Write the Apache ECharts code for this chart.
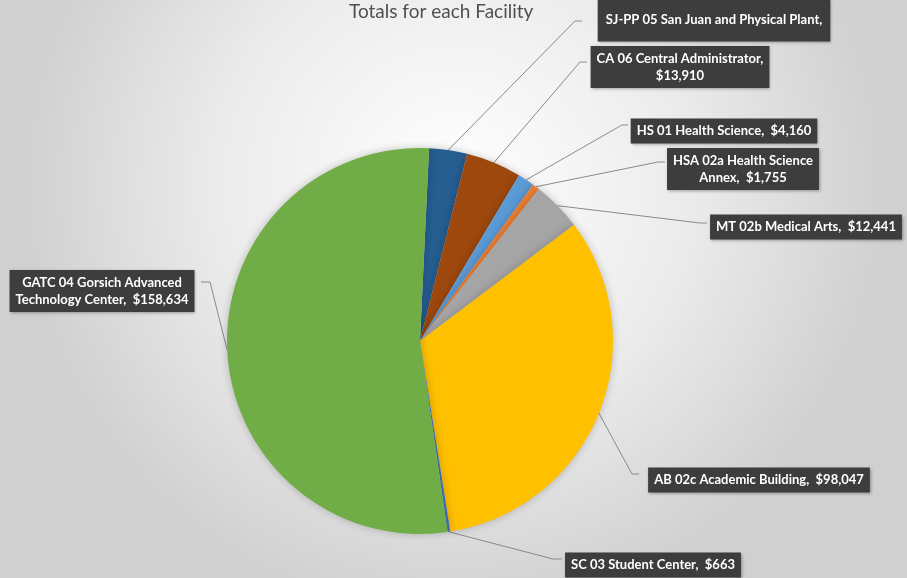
<!DOCTYPE html>
<html>
<head>
<meta charset="utf-8">
<script src="https://cdn.jsdelivr.net/npm/echarts@6/dist/echarts.min.js"></script>
<style>
  html, body { margin: 0; padding: 0; }
  #chart { width: 907px; height: 578px; }
</style>
</head>
<body>
<div id="chart"></div>
<script>
// ---- data ----
var categories = [
  'SJ-PP 05 San Juan and Physical Plant',
  'CA 06 Central Administrator',
  'HS 01 Health Science',
  'HSA 02a Health Science Annex',
  'MT 02b Medical Arts',
  'AB 02c Academic Building',
  'SC 03 Student Center',
  'GATC 04 Gorsich Advanced Technology Center'
];
var totals = [9500, 13910, 4160, 1755, 12441, 98047, 663, 158634];
var chartTitle = 'Totals for each Facility';

// ---- styles / layout (not data) ----
var colors = ['#255E91', '#9E480E', '#5B9BD5', '#ED7D31', '#A5A5A5', '#FFC000', '#4472C4', '#70AD47'];
// label box centres, leader-line bend and end points
var labelBoxes = [
  { cx: 714, cy: 20,  bend: [575, 21],  end: [582, 21],  breakBefore: null, hideValue: true, pad: [13, 8] },
  { cx: 680, cy: 67,  bend: [580, 62],  end: [587, 62],  breakBefore: '$' },
  { cx: 724, cy: 131, bend: [622, 125], end: [628, 125] },
  { cx: 743, cy: 169, bend: [658, 162], end: [665, 162], breakBefore: 'Annex' },
  { cx: 806, cy: 227, bend: [700, 223], end: [707, 223] },
  { cx: 759, cy: 480, bend: [632, 474], end: [639, 474] },
  { cx: 653, cy: 565, bend: [553, 559], end: [562, 559] },
  { cx: 102, cy: 291, bend: [210, 282], end: [201, 282], breakBefore: 'Technology' }
];

function fmtMoney(v) { return '$' + v.toLocaleString('en-US'); }
function labelText(i) {
  var L = labelBoxes[i];
  var s = L.hideValue ? categories[i] + ',' : categories[i] + ',  ' + fmtMoney(totals[i]);
  if (L.breakBefore) {
    var k = s.indexOf(L.breakBefore);
    s = s.slice(0, k).replace(/\s+$/, '') + '\n' + s.slice(k);
  }
  return s;
}

var chart = echarts.init(document.getElementById('chart'), null, { renderer: 'canvas' });

var data = categories.map(function (c, i) {
  var L = labelBoxes[i];
  var item = { name: c, value: totals[i], itemStyle: { color: colors[i] } };
  if (L.pad) item.label = { padding: L.pad };
  return item;
});

chart.setOption({
  backgroundColor: {
    type: 'radial', x: 0.5, y: 0.32, r: 0.75,
    colorStops: [
      { offset: 0, color: '#ffffff' },
      { offset: 0.55, color: '#ebebeb' },
      { offset: 1, color: '#d0d0d0' }
    ]
  },
  title: {
    text: chartTitle,
    left: 344, top: -3,
    textStyle: { fontFamily: 'Lato', fontSize: 19, fontWeight: 'normal', color: '#4f4f4f' }
  },
  animation: false,
  series: [{
    type: 'pie',
    center: [420, 341],
    radius: 193,
    startAngle: 87.3,
    clockwise: true,
    avoidLabelOverlap: false,
    minShowLabelAngle: 0,
    data: data,
    itemStyle: {
      borderWidth: 0,
      shadowBlur: 8,
      shadowColor: 'rgba(0,0,0,0.22)'
    },
    label: {
      show: true,
      position: 'outside',
      formatter: function (p) { return labelText(p.dataIndex); },
      fontFamily: 'Lato',
      fontWeight: 'bold',
      fontSize: 13,
      lineHeight: 17,
      color: '#ffffff',
      backgroundColor: '#3d3d3d',
      padding: [4, 6],
      align: 'center',
      shadowBlur: 3,
      shadowColor: 'rgba(0,0,0,0.35)',
      shadowOffsetX: 1,
      shadowOffsetY: 1
    },
    labelLine: {
      show: true,
      length: 10,
      length2: 10,
      lineStyle: { color: '#8a8a8a', width: 1 }
    },
    labelLayout: function (p) {
      var L = labelBoxes[p.dataIndex];
      var res = { x: L.cx, y: L.cy, align: 'center', verticalAlign: 'middle' };
      if (p.labelLinePoints && p.labelLinePoints.length) {
        res.labelLinePoints = [p.labelLinePoints[0], L.bend, L.end];
      }
      return res;
    }
  }]
});
</script>
</body>
</html>
